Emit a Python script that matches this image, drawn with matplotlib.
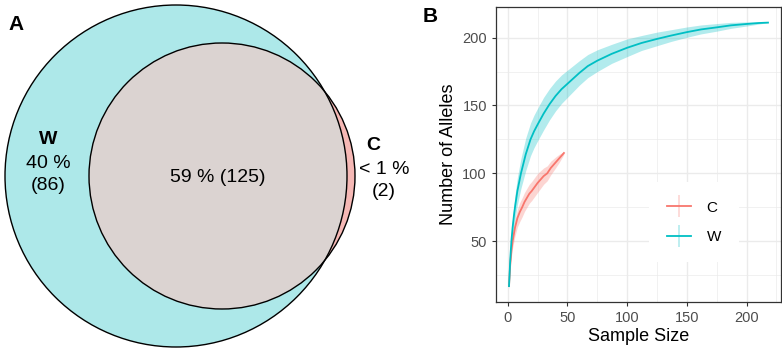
import numpy as np
import matplotlib.pyplot as plt
from matplotlib.patches import Circle
from matplotlib.lines import Line2D
from matplotlib.legend_handler import HandlerTuple

plt.rcParams['font.family'] = ['Liberation Sans', 'DejaVu Sans']

# Venn data
venn_labels = ['W', 'C']
venn_only_pct = ['40 %', '< 1 %']
venn_only_n = [86, 2]
shared_pct = '59 %'
shared_n = 125

# rarefaction curves
w_x = [1, 2, 3, 4, 5, 6, 8, 11, 13, 15, 19, 22, 25, 30, 35, 40, 45, 50, 55, 60, 67, 75, 87,
       100, 112, 125, 137, 150, 162, 175, 187, 200, 210, 218]
w_y = [17, 36, 50, 60, 68, 75, 87, 100, 107, 114, 125, 131, 136, 144, 151, 157, 162, 166, 170, 174, 179, 183, 188,
       192.5, 196, 199, 201.5, 204, 206, 207.5, 209, 210, 210.7, 211]
w_sd = [2, 4, 6, 7, 8, 9, 10, 11, 11.5, 12, 12, 12, 12, 12, 11.5, 11, 10.5, 10, 9.5, 9, 8.5, 8, 7,
        6.5, 5.5, 5, 4.3, 3.8, 3.3, 2.8, 2.2, 1.5, 0.8, 0]

c_x = [1, 2, 3, 4, 5, 6, 8, 10, 12, 14, 16, 18, 20, 22.5, 25, 27.5, 30, 33, 36, 40, 43, 47]
c_y = [17, 33, 43, 50, 55, 60, 67, 71.5, 75, 79, 82, 85, 87, 90, 93, 95.5, 98, 100, 104, 108, 111, 115]
c_sd = [2, 3.5, 4.5, 5, 5.5, 6, 6.5, 7, 7, 7, 7, 7, 7, 7, 7, 6.5, 6, 5.5, 5, 4, 3, 1]

col_c = '#F8766D'
col_w = '#00BFC4'

fig = plt.figure(figsize=(7.82, 3.51), dpi=100)

# ---- panel A: venn in pixel coords
axa = fig.add_axes([0, 0, 420 / 782, 1])
axa.set_xlim(0, 420)
axa.set_ylim(351, 0)
axa.set_aspect('equal')
axa.axis('off')

w_circ = Circle((176, 176), 171, facecolor='#ADE8E9', edgecolor='none')
c_circ = Circle((222, 176), 133, facecolor='#F5B8B5', edgecolor='none')
axa.add_patch(w_circ)
axa.add_patch(c_circ)
inter = Circle((222, 176), 133, facecolor='#DBD3D1', edgecolor='none')
axa.add_patch(inter)
inter.set_clip_path(w_circ)
axa.add_patch(Circle((176, 176), 171, fill=False, edgecolor='black', lw=1.0))
axa.add_patch(Circle((222, 176), 133, fill=False, edgecolor='black', lw=1.0))

fs = 14
axa.text(48, 140, venn_labels[0], ha='center', va='center', fontsize=fs, fontweight='bold')
axa.text(48, 164, venn_only_pct[0], ha='center', va='center', fontsize=fs)
axa.text(48, 186, f'({venn_only_n[0]})', ha='center', va='center', fontsize=fs)
axa.text(218, 177, f'{shared_pct} ({shared_n})', ha='center', va='center', fontsize=fs)
axa.text(373, 146, venn_labels[1], ha='center', va='center', fontsize=fs, fontweight='bold')
axa.text(384, 169, venn_only_pct[1], ha='center', va='center', fontsize=fs)
axa.text(384, 191, f'({venn_only_n[1]})', ha='center', va='center', fontsize=fs)
axa.text(16, 25, 'A', ha='center', va='center', fontsize=15, fontweight='bold')

# ---- panel B: rarefaction
axb = fig.add_axes([496 / 782, 49 / 351, 285 / 782, 295 / 351])
for x, y, sd, col in [(c_x, c_y, c_sd, col_c), (w_x, w_y, w_sd, col_w)]:
    x = np.array(x); y = np.array(y); sd = np.array(sd)
    axb.fill_between(x, y - sd, y + sd, color=col, alpha=0.3, lw=0)
    axb.plot(x, y, color=col, lw=1.3)

axb.set_xlim(-9.9, 228.9)
axb.set_ylim(5.3, 222.5)
axb.set_xticks([0, 50, 100, 150, 200])
axb.set_yticks([50, 100, 150, 200])
axb.set_xticks([25, 75, 125, 175, 225], minor=True)
axb.set_yticks([25, 75, 125, 175], minor=True)
axb.grid(True, which='major', color='#EBEBEB', lw=1.0)
axb.grid(True, which='minor', color='#EBEBEB', lw=0.5)
axb.set_axisbelow(True)
axb.tick_params(which='major', length=3, color='#333333', labelcolor='#4D4D4D', labelsize=10.5)
axb.tick_params(which='minor', length=0)
for s in axb.spines.values():
    s.set_color('#333333')
    s.set_linewidth(0.9)
axb.set_xlabel('Sample Size', fontsize=13, labelpad=2)
axb.set_ylabel('Number of Alleles', fontsize=13, labelpad=4)

handles = []
for col in [col_c, col_w]:
    v = Line2D([], [], marker='|', markersize=16, markeredgewidth=1.2, color=col, alpha=0.3, ls='none')
    h = Line2D([], [], color=col, lw=1.3)
    handles.append((v, h))
leg = axb.legend(handles, ['C', 'W'], handler_map={tuple: HandlerTuple(ndivide=1, pad=0)},
                 loc='center', bbox_to_anchor=(0.695, 0.27), fontsize=11,
                 frameon=True, facecolor='white', edgecolor='none', framealpha=1,
                 handlelength=1.6, labelspacing=1.0, borderpad=1.2, handletextpad=1.0)

fig.text(430 / 782, 1 - 16 / 351, 'B', ha='center', va='center', fontsize=15, fontweight='bold')

fig.savefig('out.png', dpi=100)
